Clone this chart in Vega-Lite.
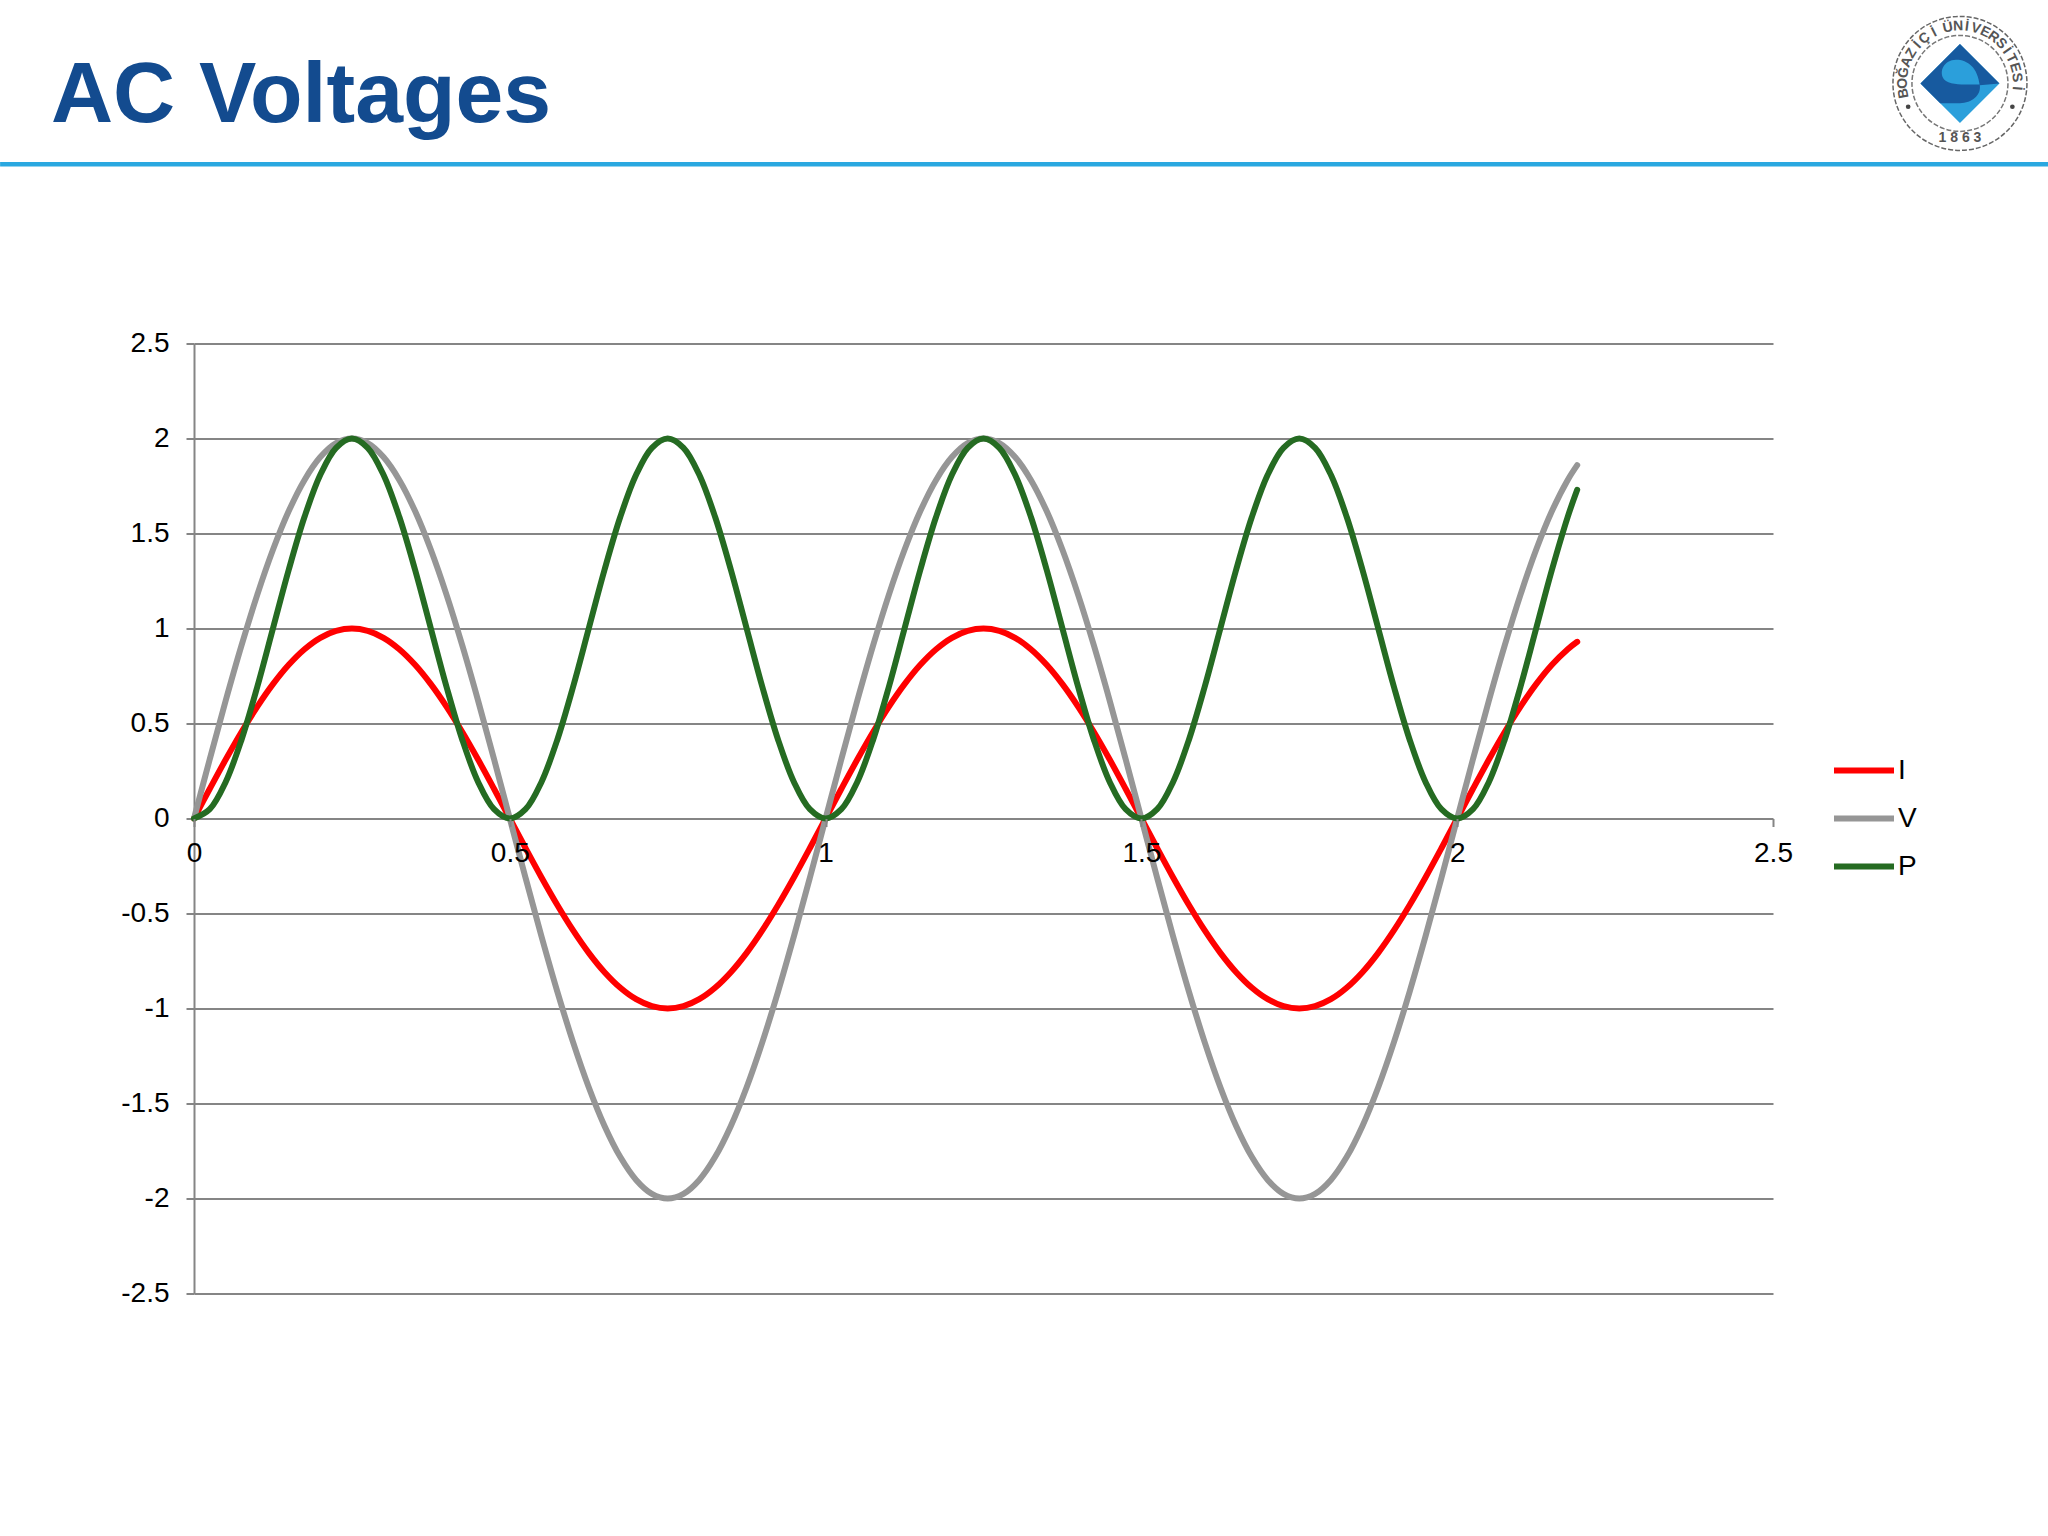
{"$schema":"https://vega.github.io/schema/vega-lite/v6.json","autosize":"none","width":1579,"height":950,"padding":{"left":194,"top":343.5,"right":275,"bottom":242.5},"background":"white","config":{"view":{"stroke":null},"font":"Liberation Sans"},"title":{"text":"AC Voltages","anchor":"start","frame":"group","dx":-143,"offset":-195,"baseline":"alphabetic","font":"Liberation Sans","fontSize":86,"fontWeight":"bold","color":"#134b8f"},"layer":[{"data":{"values":[
{"t":0,"I":0,"V":0,"P":0},{"t":0.025,"I":0.1564,"V":0.3129,"P":0.0489},{"t":0.05,"I":0.309,"V":0.618,"P":0.191},{"t":0.075,"I":0.454,"V":0.908,"P":0.4122},{"t":0.1,"I":0.5878,"V":1.1756,"P":0.691},{"t":0.125,"I":0.7071,"V":1.4142,"P":1},{"t":0.15,"I":0.809,"V":1.618,"P":1.309},{"t":0.175,"I":0.891,"V":1.782,"P":1.5878},{"t":0.2,"I":0.9511,"V":1.9021,"P":1.809},{"t":0.225,"I":0.9877,"V":1.9754,"P":1.9511},
{"t":0.25,"I":1,"V":2,"P":2},{"t":0.275,"I":0.9877,"V":1.9754,"P":1.9511},{"t":0.3,"I":0.9511,"V":1.9021,"P":1.809},{"t":0.325,"I":0.891,"V":1.782,"P":1.5878},{"t":0.35,"I":0.809,"V":1.618,"P":1.309},{"t":0.375,"I":0.7071,"V":1.4142,"P":1},{"t":0.4,"I":0.5878,"V":1.1756,"P":0.691},{"t":0.425,"I":0.454,"V":0.908,"P":0.4122},{"t":0.45,"I":0.309,"V":0.618,"P":0.191},{"t":0.475,"I":0.1564,"V":0.3129,"P":0.0489},
{"t":0.5,"I":0,"V":0,"P":0},{"t":0.525,"I":-0.1564,"V":-0.3129,"P":0.0489},{"t":0.55,"I":-0.309,"V":-0.618,"P":0.191},{"t":0.575,"I":-0.454,"V":-0.908,"P":0.4122},{"t":0.6,"I":-0.5878,"V":-1.1756,"P":0.691},{"t":0.625,"I":-0.7071,"V":-1.4142,"P":1},{"t":0.65,"I":-0.809,"V":-1.618,"P":1.309},{"t":0.675,"I":-0.891,"V":-1.782,"P":1.5878},{"t":0.7,"I":-0.9511,"V":-1.9021,"P":1.809},{"t":0.725,"I":-0.9877,"V":-1.9754,"P":1.9511},
{"t":0.75,"I":-1,"V":-2,"P":2},{"t":0.775,"I":-0.9877,"V":-1.9754,"P":1.9511},{"t":0.8,"I":-0.9511,"V":-1.9021,"P":1.809},{"t":0.825,"I":-0.891,"V":-1.782,"P":1.5878},{"t":0.85,"I":-0.809,"V":-1.618,"P":1.309},{"t":0.875,"I":-0.7071,"V":-1.4142,"P":1},{"t":0.9,"I":-0.5878,"V":-1.1756,"P":0.691},{"t":0.925,"I":-0.454,"V":-0.908,"P":0.4122},{"t":0.95,"I":-0.309,"V":-0.618,"P":0.191},{"t":0.975,"I":-0.1564,"V":-0.3129,"P":0.0489},
{"t":1,"I":0,"V":0,"P":0},{"t":1.025,"I":0.1564,"V":0.3129,"P":0.0489},{"t":1.05,"I":0.309,"V":0.618,"P":0.191},{"t":1.075,"I":0.454,"V":0.908,"P":0.4122},{"t":1.1,"I":0.5878,"V":1.1756,"P":0.691},{"t":1.125,"I":0.7071,"V":1.4142,"P":1},{"t":1.15,"I":0.809,"V":1.618,"P":1.309},{"t":1.175,"I":0.891,"V":1.782,"P":1.5878},{"t":1.2,"I":0.9511,"V":1.9021,"P":1.809},{"t":1.225,"I":0.9877,"V":1.9754,"P":1.9511},
{"t":1.25,"I":1,"V":2,"P":2},{"t":1.275,"I":0.9877,"V":1.9754,"P":1.9511},{"t":1.3,"I":0.9511,"V":1.9021,"P":1.809},{"t":1.325,"I":0.891,"V":1.782,"P":1.5878},{"t":1.35,"I":0.809,"V":1.618,"P":1.309},{"t":1.375,"I":0.7071,"V":1.4142,"P":1},{"t":1.4,"I":0.5878,"V":1.1756,"P":0.691},{"t":1.425,"I":0.454,"V":0.908,"P":0.4122},{"t":1.45,"I":0.309,"V":0.618,"P":0.191},{"t":1.475,"I":0.1564,"V":0.3129,"P":0.0489},
{"t":1.5,"I":0,"V":0,"P":0},{"t":1.525,"I":-0.1564,"V":-0.3129,"P":0.0489},{"t":1.55,"I":-0.309,"V":-0.618,"P":0.191},{"t":1.575,"I":-0.454,"V":-0.908,"P":0.4122},{"t":1.6,"I":-0.5878,"V":-1.1756,"P":0.691},{"t":1.625,"I":-0.7071,"V":-1.4142,"P":1},{"t":1.65,"I":-0.809,"V":-1.618,"P":1.309},{"t":1.675,"I":-0.891,"V":-1.782,"P":1.5878},{"t":1.7,"I":-0.9511,"V":-1.9021,"P":1.809},{"t":1.725,"I":-0.9877,"V":-1.9754,"P":1.9511},
{"t":1.75,"I":-1,"V":-2,"P":2},{"t":1.775,"I":-0.9877,"V":-1.9754,"P":1.9511},{"t":1.8,"I":-0.9511,"V":-1.9021,"P":1.809},{"t":1.825,"I":-0.891,"V":-1.782,"P":1.5878},{"t":1.85,"I":-0.809,"V":-1.618,"P":1.309},{"t":1.875,"I":-0.7071,"V":-1.4142,"P":1},{"t":1.9,"I":-0.5878,"V":-1.1756,"P":0.691},{"t":1.925,"I":-0.454,"V":-0.908,"P":0.4122},{"t":1.95,"I":-0.309,"V":-0.618,"P":0.191},{"t":1.975,"I":-0.1564,"V":-0.3129,"P":0.0489},
{"t":2,"I":0,"V":0,"P":0},{"t":2.025,"I":0.1564,"V":0.3129,"P":0.0489},{"t":2.05,"I":0.309,"V":0.618,"P":0.191},{"t":2.075,"I":0.454,"V":0.908,"P":0.4122},{"t":2.1,"I":0.5878,"V":1.1756,"P":0.691},{"t":2.125,"I":0.7071,"V":1.4142,"P":1},{"t":2.15,"I":0.809,"V":1.618,"P":1.309},{"t":2.175,"I":0.891,"V":1.782,"P":1.5878},{"t":2.19,"I":0.93,"V":1.86,"P":1.73}
]},"transform":[{"fold":["I","V","P"],"as":["series","value"]}],"mark":{"type":"line","interpolate":"catmull-rom","strokeWidth":6,"strokeCap":"round","strokeJoin":"round"},"encoding":{"x":{"field":"t","type":"quantitative","title":null,"scale":{"domain":[0,2.5],"nice":false,"zero":false},"axis":{"title":null,"orient":"bottom","offset":-475,"zindex":1,"values":[0,0.5,1,1.5,2,2.5],"labelExpr":"''+datum.value","labelFontSize":28,"labelColor":"#000000","labelFont":"Liberation Sans","labelPadding":13,"tickSize":8,"tickWidth":2,"tickColor":"#858585","domain":false,"grid":false,"labelFlush":false,"labelOverlap":false}},"y":{"field":"value","type":"quantitative","title":null,"scale":{"domain":[-2.5,2.5],"nice":false,"zero":false},"axis":{"title":null,"values":[-2.5,-2,-1.5,-1,-0.5,0,0.5,1,1.5,2,2.5],"labelExpr":"''+datum.value","labelFontSize":28,"labelColor":"#000000","labelFont":"Liberation Sans","labelPadding":17,"tickSize":8,"tickWidth":2,"tickColor":"#858585","domainWidth":2,"domainColor":"#858585","grid":true,"gridColor":"#858585","gridWidth":2,"gridOpacity":1,"labelOverlap":false}},"color":{"field":"series","type":"nominal","sort":["I","V","P"],"scale":{"domain":["I","V","P"],"range":["#ff0000","#969696","#256b22"]},"legend":{"title":null,"orient":"none","legendX":1637,"legendY":412,"symbolType":"stroke","symbolSize":3600,"symbolStrokeWidth":6,"labelFontSize":28,"labelColor":"#000000","labelFont":"Liberation Sans","labelOffset":1,"clipHeight":30,"rowPadding":18}}}},
{"data":{"values":[{"x0":-0.307,"x1":2.936,"y":3.443}]},"mark":{"type":"rule","color":"#2aa8e0","strokeWidth":4.5},"encoding":{"x":{"field":"x0","type":"quantitative","title":null},"x2":{"field":"x1"},"y":{"field":"y","type":"quantitative","title":null}}},
{"data":{"values":[{"x":2.796,"y":3.869}]},"mark":{"type":"point","shape":"circle","size":17956,"filled":false,"stroke":"#666666","strokeWidth":1.5,"strokeDash":[5,2],"opacity":1},"encoding":{"x":{"field":"x","type":"quantitative","title":null},"y":{"field":"y","type":"quantitative","title":null}}},
{"data":{"values":[{"x":2.796,"y":3.869}]},"mark":{"type":"point","shape":"circle","size":9216,"filled":false,"stroke":"#777777","strokeWidth":1.5,"strokeDash":[5,2],"opacity":1},"encoding":{"x":{"field":"x","type":"quantitative","title":null},"y":{"field":"y","type":"quantitative","title":null}}},
{"data":{"values":[{"x":2.796,"y":3.869}]},"mark":{"type":"point","shape":"diamond","size":6241,"filled":true,"color":"#2b9fdb","opacity":1},"encoding":{"x":{"field":"x","type":"quantitative","title":null},"y":{"field":"y","type":"quantitative","title":null}}},
{"data":{"values":[{"x":2.796,"y":3.869}]},"mark":{"type":"point","shape":"M0,-1L1,0L.5,.05C.45,-.4 .2,-.6 -.1,-.6C-.4,-.6 -.55,-.3 -.4,-.1C-.3,.02 0,.03 .2,.03L.5,.03C.55,.3 .3,.5 0,.5L-.5,.5L-1,0Z","size":6241,"filled":true,"color":"#175a9f","opacity":1},"encoding":{"x":{"field":"x","type":"quantitative","title":null},"y":{"field":"y","type":"quantitative","title":null}}},
{"data":{"values":[{"x":2.714,"y":3.746},{"x":2.879,"y":3.746}]},"mark":{"type":"point","shape":"circle","size":22,"filled":true,"color":"#444444","opacity":1},"encoding":{"x":{"field":"x","type":"quantitative","title":null},"y":{"field":"y","type":"quantitative","title":null}}},
{"data":{"values":[{"c":"1 8 6 3","x":2.796,"y":3.583,"a":0},{"c":"B","x":2.707,"y":3.817,"a":-100},{"c":"O","x":2.706,"y":3.869,"a":-90},{"c":"Ğ","x":2.707,"y":3.926,"a":-79},{"c":"A","x":2.712,"y":3.981,"a":-68},{"c":"Z","x":2.719,"y":4.028,"a":-58},{"c":"İ","x":2.729,"y":4.07,"a":-48},{"c":"Ç","x":2.74,"y":4.105,"a":-38},{"c":"İ","x":2.755,"y":4.136,"a":-27},{"c":"Ü","x":2.777,"y":4.162,"a":-12},{"c":"N","x":2.793,"y":4.169,"a":-2},{"c":"İ","x":2.807,"y":4.167,"a":7},{"c":"V","x":2.821,"y":4.157,"a":16},{"c":"E","x":2.836,"y":4.139,"a":26},{"c":"R","x":2.849,"y":4.112,"a":36},{"c":"S","x":2.861,"y":4.078,"a":46},{"c":"İ","x":2.87,"y":4.041,"a":55},{"c":"T","x":2.877,"y":4,"a":64},{"c":"E","x":2.883,"y":3.952,"a":74},{"c":"S","x":2.886,"y":3.9,"a":84},{"c":"İ","x":2.886,"y":3.843,"a":95}]},"mark":{"type":"text","font":"Liberation Sans","fontSize":14,"fontWeight":"bold","color":"#555555","align":"center","baseline":"middle"},"encoding":{"x":{"field":"x","type":"quantitative","title":null},"y":{"field":"y","type":"quantitative","title":null},"text":{"field":"c"},"angle":{"field":"a","type":"quantitative","scale":null}}}
]}
